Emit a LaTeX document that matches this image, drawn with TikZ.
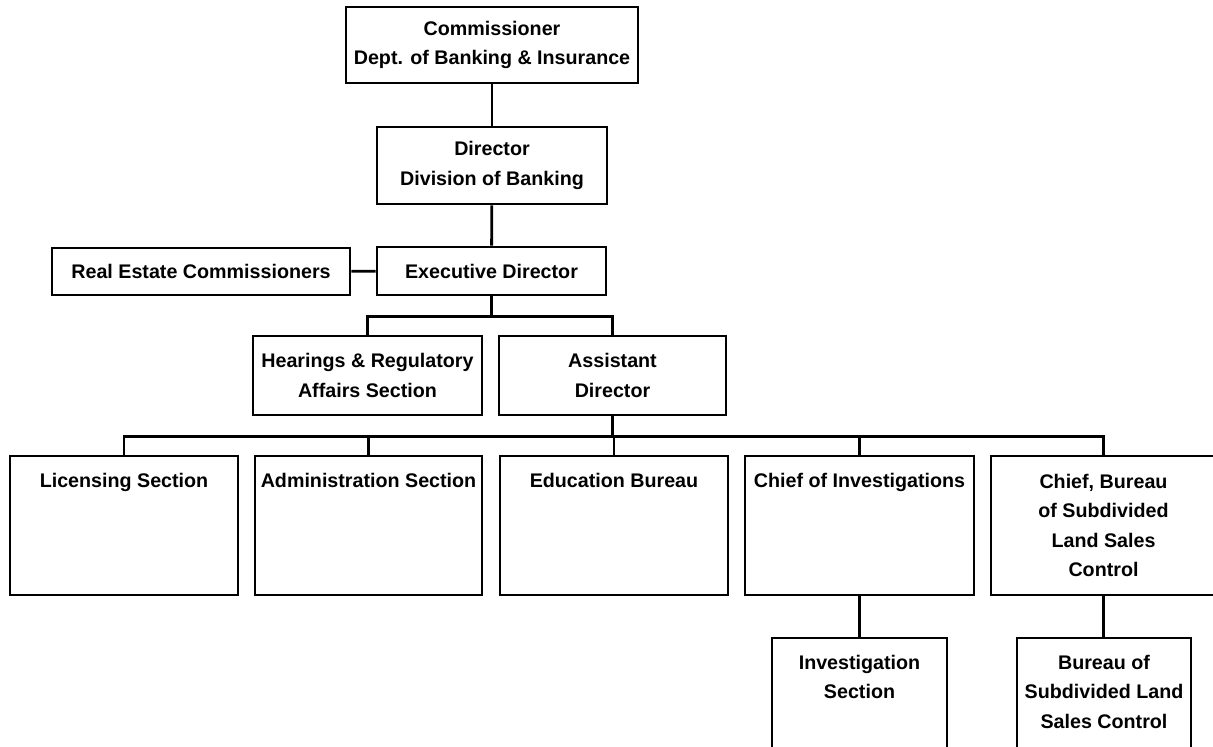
\documentclass[tikz,border=0pt]{standalone}
\usepackage{fontspec}
\setmainfont{Liberation Sans}
\usetikzlibrary{fit}

\begin{document}
\begin{tikzpicture}[x=0.025cm, y=-0.025cm, line width=2pt,
    box/.style={draw, inner sep=0pt, fit={#1}},
    mid/.style={align=center, inner sep=0pt, font=\fontsize{14}{21}\selectfont\bfseries},
    upper/.style={mid, anchor=north, yshift=-0.425cm}]
    \useasboundingbox (0,0) rectangle (1213,746);
    \clip (0,0) rectangle (1213,746);
    % top levels
    \node[box={(346,7) (638,83)}, label={[mid]center:Commissioner\\Dept. of Banking \& Insurance}] (comm) {};
    \node[box={(377,127) (607,204)}, label={[mid]center:Director\\Division of Banking}] (dir) {};
    \node[box={(377,247) (606,295)}, label={[mid]center:Executive Director}] (exec) {};
    \node[box={(52,248) (350,295)}, label={[mid]center:Real Estate Commissioners}] (recomm) {};
    \node[box={(253,336) (482,415)}, label={[mid]center:Hearings \& Regulatory\\Affairs Section}] (hear) {};
    \node[box={(499,336) (726,415)}, label={[mid]center:Assistant\\Director}] (asst) {};
    % sections
    \node[box={(10,456) (238,595)}, label={[upper]north:Licensing Section}] (lic) {};
    \node[box={(255,456) (482,595)}, label={[upper]north:Administration Section}] (adm) {};
    \node[box={(500,456) (728,595)}, label={[upper]north:Education Bureau}] (edu) {};
    \node[box={(745,456) (974,595)}, label={[upper]north:Chief of Investigations}] (cinv) {};
    \node[box={(991,456) (1216,595)}, label={[mid]center:Chief, Bureau\\of Subdivided\\Land Sales\\Control}] (cbur) {};
    \node[box={(772,638) (947,760)}, label={[upper]north:Investigation\\Section}] (isec) {};
    \node[box={(1017,638) (1191,760)}, label={[upper]north:Bureau of\\Subdivided Land\\Sales Control}] (bsec) {};
    \draw (comm) -- (dir);
    \draw (dir) -- (exec);
    \draw (recomm) -- (exec);
    \draw (exec.south) -- ++(0,20) coordinate (j1);
    \draw (hear.north) |- (j1) -| (asst.north);
    \draw (asst.south) -- ++(0,20) coordinate (j2);
    \draw (lic.north) |- (j2) -| (cbur.north);
    \foreach \n in {adm, edu, cinv}
        \draw (\n.north) -- (\n.north |- j2);
    \draw (cinv) -- (isec);
    \draw (cbur.south) -- (cbur.south |- bsec.north);
\end{tikzpicture}
\end{document}
